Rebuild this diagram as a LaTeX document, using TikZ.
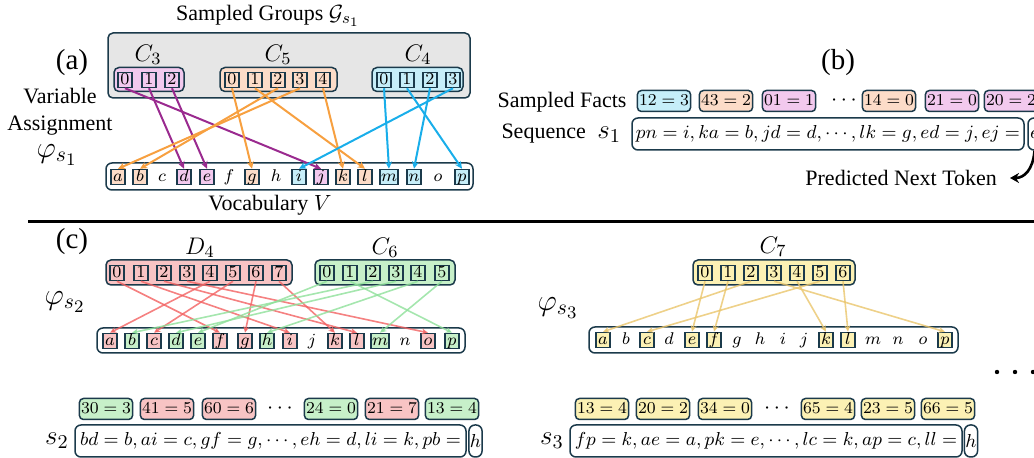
\RequirePackage{fix-cm}
\documentclass[tikz,border=0pt]{standalone}
\usepackage{fontspec}
\setmainfont{Liberation Serif}
\usetikzlibrary{arrows.meta}

\DeclareMathSizes{11}{11}{8}{6.5}
\DeclareMathSizes{12}{12}{8.6}{7}
\DeclareMathSizes{13.5}{13.5}{9.8}{8}
\DeclareMathSizes{15}{15}{10.8}{8.8}

\definecolor{bd}{HTML}{1B3A4B}
\definecolor{grayfill}{HTML}{E6E6E6}
\definecolor{pinkfill}{HTML}{F2C9EE}
\definecolor{pinkline}{HTML}{9A2A8F}
\definecolor{orfill}{HTML}{FCDCC8}
\definecolor{orline}{HTML}{F7A040}
\definecolor{blfill}{HTML}{C6EEF9}
\definecolor{blline}{HTML}{19AEEA}
\definecolor{redfill}{HTML}{F8C4C4}
\definecolor{redline}{HTML}{F26262}
\definecolor{grfill}{HTML}{C7F0C9}
\definecolor{grline}{HTML}{8EE09A}
\definecolor{yefill}{HTML}{FCF1B4}
\definecolor{yeline}{HTML}{EAC56C}

\tikzset{
  bdr/.style={draw=bd, line width=0.75pt},
  cell/.style={bdr, minimum width=7pt, minimum height=7.5pt, inner sep=0.4pt,
    text height=5.4pt, text depth=1.2pt, font=\fontsize{8.5}{8.5}\selectfont},
  lett/.style={minimum width=7pt, minimum height=7.5pt, inner sep=0.4pt,
    text height=5.4pt, text depth=1.2pt, font=\fontsize{8.5}{8.5}\selectfont},
  grp/.style={bdr, rounded corners=2.5pt},
  bar/.style={bdr, fill=white, rounded corners=3pt},
  fact/.style={bdr, rounded corners=2pt, inner sep=0.8pt, minimum height=10.5pt,
    text height=6pt, text depth=1.3pt, font=\fontsize{8.3}{8.3}\selectfont},
  seqbox/.style={bdr, fill=white, rounded corners=3pt, minimum height=16pt, inner sep=1pt,
    font=\fontsize{9.4}{9.4}\selectfont},
  lbl/.style={font=\fontsize{11}{13.5}\selectfont},
  grplbl/.style={font=\fontsize{12}{12}\selectfont},
  panel/.style={font=\fontsize{14.5}{14.5}\selectfont},
  phil/.style={font=\fontsize{15}{15}\selectfont},
  slbl/.style={font=\fontsize{13.5}{13.5}\selectfont},
  asga/.style={line width=1pt, -{Stealth[length=3.6pt,width=3.4pt]}},
  asgc/.style={line width=0.8pt, opacity=0.8, -{Stealth[length=3.2pt,width=3pt]}},
}

\begin{document}
\begin{tikzpicture}[x=0.5pt,y=-0.5pt]
\useasboundingbox (0,0) rectangle (1034,458);
\clip (0,0) rectangle (1034,458);

% ---------- (a) sampled groups and the variable assignment ----------
\node[lbl] (gtitle) at (268,16) {Sampled Groups $\mathcal{G}_{s_1}$};
\node[grp, fill=grayfill, minimum width=181pt, minimum height=32.5pt] (gray) at (289,65.5) {};
\node[panel] (pa) at (72,63) {(a)};
\node[lbl, align=center] (varasg) at (60,112) {Variable\\Assignment};
\node[phil] (phi1) at (57,155) {$\varphi_{s_1}$};

\node[grplbl] (lc3) at (148,55) {$C_3$};
\node[grplbl] (lc5) at (278,55) {$C_5$};
\node[grplbl] (lc4) at (418,55) {$C_4$};

\node[grp, fill=pinkfill, minimum width=35pt, minimum height=12pt] (g3) at (149,79.5) {};
\node[grp, fill=orfill, minimum width=58.5pt, minimum height=12pt] (g5) at (278.5,79.5) {};
\node[grp, fill=blfill, minimum width=45.5pt, minimum height=12pt] (g4) at (417.5,79.5) {};

\foreach \d/\x in {0/125,1/149,2/172}
  \node[cell, fill=pinkfill] (ac3n\d) at (\x,80) {$\d$};
\foreach \d/\x in {0/232,1/255,2/278,3/300,4/323}
  \node[cell, fill=orfill] (ac5n\d) at (\x,80) {$\d$};
\foreach \d/\x in {0/384,1/407,2/430,3/453}
  \node[cell, fill=blfill] (ac4n\d) at (\x,80) {$\d$};

\node[bar, minimum width=183.5pt, minimum height=13.5pt] (abar) at (289.5,176.5) {};
\foreach \v/\x/\fc in {a/118/orfill,b/140/orfill,d/184/pinkfill,e/207/pinkfill,g/252/orfill,
    i/299/blfill,j/321/pinkfill,k/343/orfill,l/365/orfill,m/389/blfill,n/414/blfill,p/462/blfill}
  \node[cell, fill=\fc] (A\v) at (\x,177) {$\v$};
\foreach \v/\x in {c/162,f/229,h/276,o/438}
  \node[lett] (A\v) at (\x,177) {$\v$};
\node[lbl] (vocab) at (270,205) {Vocabulary $V$};

\foreach \s/\t in {0/j,1/d,2/e}
  \draw[asga, pinkline] (ac3n\s.south) -- (A\t.north);
\foreach \s/\t in {0/g,1/l,2/b,3/a,4/k}
  \draw[asga, orline] (ac5n\s.south) -- (A\t.north);
\foreach \s/\t in {0/m,1/p,2/n,3/i}
  \draw[asga, blline] (ac4n\s.south) -- (A\t.north);

% ---------- (b) sampled facts and the sequence ----------
\node[panel] (pb) at (838,63) {(b)};
\node[lbl] (sfacts) at (562,102) {Sampled Facts};
\node[fact, fill=blfill] (f1) at (664,101) {$12=3$};
\node[fact, fill=orfill] (f2) at (726,101) {$43=2$};
\node[fact, fill=pinkfill] (f3) at (789,101) {$01=1$};
\node[lbl] (fdots) at (844,101) {$\cdots$};
\node[fact, fill=orfill] (f4) at (889,101) {$14=0$};
\node[fact, fill=pinkfill] (f5) at (952,101) {$21=0$};
\node[fact, fill=pinkfill] (f6) at (1011,101) {$20=2$};

\node[lbl, anchor=east] (seqlbl) at (628,134) {Sequence\; {\fontsize{13.5}{13.5}\selectfont$s_1$}};
\node[seqbox, minimum width=196pt] (seq1) at (828,134)
  {$pn=i, ka=b, jd=d, \cdots, lk=g, ed=j, ej=$};
\node[seqbox, minimum width=6.5pt, inner sep=0.5pt] (eb) at (1034.5,134) {$e$};
\node[lbl, anchor=east] (pnt) at (1004,178) {Predicted Next Token};
\draw[line width=1.3pt, -{Stealth[length=4.5pt,width=5pt]}]
  (eb.south) .. controls (1033,170) and (1024,178) .. ([xshift=3pt]pnt.east);

% ---------- separator ----------
\draw[line width=1.5pt] (28,222) -- (1034,222);

% ---------- (c) left: D4 and C6 ----------
\node[panel] (pc) at (72,242) {(c)};
\node[grplbl] (ld4) at (200,248) {$D_4$};
\node[grplbl] (lc6) at (385,248) {$C_6$};
\node[phil] (phi2) at (65,302) {$\varphi_{s_2}$};

\node[grp, fill=redfill, minimum width=93pt, minimum height=12.5pt] (g6d) at (199,272.5) {};
\node[grp, fill=grfill, minimum width=70pt, minimum height=12.5pt] (g6c) at (385,272.5) {};
\foreach \d/\x in {0/117,1/141,2/164,3/187,4/210,5/233,6/256,7/279}
  \node[cell, fill=redfill] (cd4n\d) at (\x,273) {$\d$};
\foreach \d/\x in {0/327,1/350,2/373,3/396,4/418,5/442}
  \node[cell, fill=grfill] (cc6n\d) at (\x,273) {$\d$};

\node[bar, minimum width=184pt, minimum height=12.5pt] (bbar) at (281,340.5) {};
\foreach \v/\x/\fc in {a/110/redfill,b/132/grfill,c/154/redfill,d/176/grfill,e/198/grfill,
    f/220/redfill,g/245/redfill,h/267/grfill,i/290/redfill,k/335/redfill,l/357/redfill,
    m/380/grfill,o/428/redfill,p/452/grfill}
  \node[cell, fill=\fc] (B\v) at (\x,341) {$\v$};
\foreach \v/\x in {j/312,n/405}
  \node[lett] (B\v) at (\x,341) {$\v$};

\foreach \s/\t in {0/f,1/i,2/l,3/o,4/a,5/c,6/g,7/k}
  \draw[asgc, redline] (cd4n\s.south) -- (B\t.north);
\foreach \s/\t in {0/e,1/p,2/b,3/d,4/h,5/m}
  \draw[asgc, grline] (cc6n\s.south) -- (B\t.north);

% ---------- (c) right: C7 ----------
\node[grplbl] (lc7) at (773,247) {$C_7$};
\node[phil] (phi3) at (558,308) {$\varphi_{s_3}$};
\node[grp, fill=yefill, minimum width=81pt, minimum height=12.5pt] (g7) at (774,272.5) {};
\foreach \d/\x in {0/705,1/728,2/751,3/774,4/797,5/820,6/843}
  \node[cell, fill=yefill] (cc7n\d) at (\x,273) {$\d$};

\node[bar, minimum width=184.5pt, minimum height=13pt] (cbar) at (773.5,340) {};
\foreach \v/\x in {a/603,c/647,e/692,f/714,k/826,l/848,p/945}
  \node[cell, fill=yefill] (C\v) at (\x,340) {$\v$};
\foreach \v/\x in {b/626,d/669,g/737,h/760,i/783,j/804,m/873,n/898,o/923}
  \node[lett] (C\v) at (\x,340) {$\v$};

\foreach \s/\t in {0/e,1/f,2/a,3/p,4/k,5/c,6/l}
  \draw[asgc, yeline] (cc7n\s.south) -- (C\t.north);

\fill (997,372) circle (2.2);
\fill (1015,372) circle (2.2);
\fill (1033,372) circle (2.2);

% ---------- (c) facts and sequences s2, s3 ----------
\node[fact, fill=grfill] (h1) at (106,409) {$30=3$};
\node[fact, fill=redfill] (h2) at (167,409) {$41=5$};
\node[fact, fill=redfill] (h3) at (229,409) {$60=6$};
\node[lbl] (hdots) at (280,409) {$\cdots$};
\node[fact, fill=grfill] (h4) at (331,409) {$24=0$};
\node[fact, fill=redfill] (h5) at (392,409) {$21=7$};
\node[fact, fill=grfill] (h6) at (452,409) {$13=4$};

\node[slbl] (s2lbl) at (57,441) {$s_2$};
\node[seqbox, minimum width=195.5pt] (seq2) at (270.5,441)
  {$bd=b, ai=c, gf=g, \cdots, eh=d, li=k, pb=$};
\node[seqbox, minimum width=6.5pt, inner sep=0.5pt] (hb2) at (475.5,441) {$h$};

\node[fact, fill=yefill] (k1) at (602,409) {$13=4$};
\node[fact, fill=yefill] (k2) at (663,409) {$20=2$};
\node[fact, fill=yefill] (k3) at (725,409) {$34=0$};
\node[lbl] (kdots) at (777,409) {$\cdots$};
\node[fact, fill=yefill] (k4) at (828,409) {$65=4$};
\node[fact, fill=yefill] (k5) at (888,409) {$23=5$};
\node[fact, fill=yefill] (k6) at (948,409) {$66=5$};

\node[slbl] (s3lbl) at (552,441) {$s_3$};
\node[seqbox, minimum width=196pt] (seq3) at (766,441)
  {$fp=k, ae=a, pk=e, \cdots, lc=k, ap=c, ll=$};
\node[seqbox, minimum width=6.5pt, inner sep=0.5pt] (hb3) at (971,441) {$h$};
\end{tikzpicture}
\end{document}
